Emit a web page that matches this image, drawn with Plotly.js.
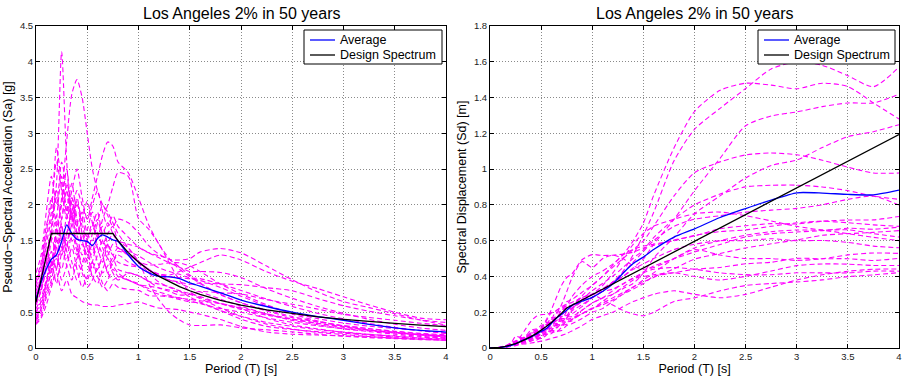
<!DOCTYPE html>
<html>
<head>
<meta charset="utf-8">
<script src="https://cdn.plot.ly/plotly-3.0.1.min.js"></script>
<style>
  html, body { margin: 0; padding: 0; background: #fff; }
  #chart { width: 902px; height: 380px; }
</style>
</head>
<body>
<div id="chart"></div>
<script>
// Natural periods of the response spectra [s]
const periods = [0,0.05,0.1,0.15,0.2,0.25,0.3,0.35,0.4,0.45,0.5,0.55,0.6,0.65,0.7,0.75,0.8,0.9,
                 1.0,1.1,1.2,1.3,1.4,1.5,1.6,1.8,2.0,2.25,2.5,2.75,3.0,3.25,3.5,3.75,4.0];

// Pseudo-spectral acceleration [g] of each scaled ground motion
const gm01 = [0.62,0.8,1.15,1.6,2.1,1.8,2.3,2.0,1.7,1.9,1.6,1.5,1.75,2.0,1.85,1.7,1.8,1.75,
              1.61,1.43,1.31,1.24,1.23,1.25,1.34,1.39,1.33,1.145,0.953,0.782,0.648,0.564,0.48,0.392,0.322];
const gm02 = [0.45,0.6,0.9,1.35,1.1,1.7,1.4,2.1,1.6,1.3,1.5,1.2,1.1,1.3,1.45,1.3,1.2,1.15,
              1.13,1.06,1.03,1.02,1.07,1.13,1.19,1.30,1.23,1.065,0.934,0.83,0.715,0.602,0.50,0.418,0.395];
const gm03 = [0.8,1.0,1.4,1.2,1.8,2.4,1.9,1.5,1.3,1.6,1.4,1.1,1.3,1.5,1.35,1.2,1.35,1.3,
              1.21,1.10,1.01,0.95,0.92,0.89,0.91,0.894,0.885,0.843,0.80,0.69,0.59,0.514,0.45,0.392,0.357];
const gm04 = [1.05,1.3,1.9,2.4,2.0,2.6,2.2,1.7,2.0,1.8,1.55,1.7,1.9,1.6,1.75,1.6,1.5,1.45,
              1.41,1.33,1.26,1.19,1.13,1.07,1.07,1.056,0.986,0.827,0.695,0.58,0.483,0.40,0.332,0.28,0.246];
const gm05 = [0.38,0.5,0.75,0.95,1.25,1.1,1.45,1.2,0.95,1.15,1.3,1.0,0.9,1.1,1.25,1.05,0.95,1.05,
              1.01,0.93,0.84,0.79,0.74,0.75,0.79,0.77,0.755,0.676,0.612,0.543,0.47,0.427,0.388,0.346,0.314];
const gm06 = [0.7,0.95,1.3,1.1,1.65,2.0,2.5,1.8,1.4,1.2,1.5,1.75,1.4,1.2,1.45,1.6,1.4,1.35,
              1.29,1.20,1.12,1.07,1.03,0.98,0.97,0.894,0.805,0.684,0.58,0.484,0.407,0.343,0.289,0.243,0.209];
const gm07 = [0.55,0.7,0.95,1.2,0.9,1.35,1.6,1.9,1.45,1.1,0.95,1.2,1.45,1.3,1.05,1.2,1.3,1.2,
              1.13,1.06,1.03,1.0,0.985,0.966,0.943,0.845,0.724,0.588,0.489,0.41,0.349,0.305,0.273,0.243,0.201];
const gm08 = [0.9,1.15,1.6,2.1,1.7,1.4,1.9,2.3,1.8,1.5,1.3,1.6,1.8,1.5,1.3,1.45,1.4,1.3,
              1.21,1.16,1.17,1.19,1.19,1.145,1.07,0.894,0.755,0.604,0.476,0.378,0.304,0.251,0.21,0.177,0.151];
const gm09 = [0.42,0.55,0.8,1.05,1.3,0.95,1.15,1.4,1.1,0.85,1.0,1.2,1.0,0.85,0.95,1.1,1.0,0.95,
              0.885,0.831,0.783,0.738,0.698,0.68,0.66,0.621,0.563,0.477,0.406,0.346,0.295,0.251,0.217,0.183,0.156];
const gm10 = [0.75,1.0,1.45,1.8,2.2,1.7,1.45,1.75,2.05,1.6,1.4,1.3,1.55,1.7,1.45,1.3,1.4,1.3,
              1.21,1.10,1.03,0.952,0.903,0.841,0.786,0.683,0.584,0.477,0.386,0.325,0.268,0.229,0.194,0.163,0.141];
const gm11 = [0.35,0.45,0.7,0.9,1.1,1.4,1.15,0.95,1.2,1.05,0.85,0.95,1.1,0.9,0.8,0.9,0.85,0.82,
              0.805,0.732,0.727,0.714,0.677,0.644,0.629,0.522,0.443,0.358,0.303,0.255,0.224,0.19,0.164,0.14,0.126];
const gm12 = [0.6,0.8,1.1,1.5,1.85,1.5,1.25,1.6,1.35,1.15,1.25,1.45,1.2,1.05,1.15,1.25,1.1,1.05,
              1.01,0.931,0.894,0.857,0.80,0.715,0.644,0.522,0.402,0.302,0.258,0.229,0.206,0.179,0.154,0.132,0.116];
const gm13 = [0.95,1.2,1.7,2.0,2.6,2.2,1.8,2.1,1.75,1.5,1.65,1.9,1.6,1.45,1.6,1.7,1.5,1.4,
              1.21,0.898,0.671,0.50,0.39,0.322,0.314,0.323,0.282,0.254,0.225,0.192,0.165,0.145,0.131,0.117,0.106];
const gm14 = [0.5,0.65,0.9,1.15,1.4,1.7,1.35,1.1,1.25,1.45,1.2,1.0,1.1,1.25,1.05,0.95,1.0,0.95,
              0.885,0.865,0.838,0.81,0.78,0.751,0.692,0.559,0.443,0.334,0.264,0.218,0.188,0.16,0.138,0.123,0.108];
const gm15 = [0.33,0.42,0.6,0.85,1.05,0.8,0.95,0.75,0.7,0.65,0.62,0.6,0.6,0.58,0.58,0.58,0.6,0.62,
              0.644,0.599,0.559,0.548,0.534,0.501,0.472,0.397,0.302,0.223,0.193,0.181,0.17,0.156,0.141,0.126,0.111];
const gm16 = [0.85,1.1,1.55,1.9,2.8,2.3,1.9,2.2,2.5,2.1,1.8,2.0,2.2,1.9,1.7,1.85,1.7,1.55,
              1.41,1.33,1.29,1.24,1.13,1.02,0.912,0.745,0.634,0.517,0.425,0.362,0.313,0.27,0.23,0.197,0.171];
const gm17 = [0.65,0.85,1.2,1.55,1.3,1.8,2.2,1.85,1.6,1.8,2.05,1.75,1.55,1.8,2.0,2.25,2.45,2.4,
              1.81,1.66,1.45,1.19,0.944,0.787,0.707,0.621,0.553,0.413,0.322,0.266,0.219,0.19,0.171,0.152,0.133];
const gm18 = [0.5,0.65,0.9,1.2,1.5,1.3,1.6,1.9,2.2,2.0,1.8,2.1,2.4,2.7,2.88,2.82,2.6,2.45,
              2.1,1.72,1.45,1.25,1.1,1.0,0.9,0.75,0.63,0.53,0.44,0.37,0.31,0.27,0.235,0.205,0.185];
const gm19 = [0.4,0.55,0.8,1.1,1.5,2.1,2.9,3.55,3.75,3.5,3.0,2.5,2.2,2.0,1.9,1.75,1.6,1.4,
              1.2,1.05,0.92,0.85,0.8,0.76,0.72,0.62,0.54,0.46,0.4,0.34,0.29,0.25,0.22,0.19,0.17];
const gm20 = [0.7,0.9,1.3,1.7,2.3,4.14,2.6,1.8,2.1,1.7,1.5,1.35,1.6,1.4,1.25,1.15,1.05,0.95,
              0.9,0.8,0.75,0.72,0.7,0.66,0.62,0.55,0.5,0.42,0.36,0.31,0.27,0.24,0.21,0.185,0.165];

const records = [gm01,gm02,gm03,gm04,gm05,gm06,gm07,gm08,gm09,gm10,
                 gm11,gm12,gm13,gm14,gm15,gm16,gm17,gm18,gm19,gm20];

// Mean spectrum of the suite [g]
const averageSa = [0.68,0.92,1.1,1.24,1.3,1.49,1.72,1.6,1.52,1.5,1.49,1.43,1.53,1.58,1.55,1.51,1.49,1.3,
                   1.14,1.05,1.0,0.995,0.97,0.91,0.865,0.77,0.67,0.58,0.502,0.44,0.388,0.33,0.282,0.245,0.222];

// Code design spectrum [g]
const designSa = [0.64,0.96,1.28,1.6,1.6,1.6,1.6,1.6,1.6,1.6,1.6,1.6,1.6,1.6,1.6,1.6,1.5,1.333,
                  1.2,1.091,1.0,0.923,0.857,0.8,0.75,0.667,0.6,0.533,0.48,0.436,0.4,0.369,0.343,0.32,0.3];

const periodTicks = [0,0.5,1,1.5,2,2.5,3,3.5,4];
const saTicks = [0,0.5,1,1.5,2,2.5,3,3.5,4,4.5];
const sdTicks = [0,0.2,0.4,0.6,0.8,1,1.2,1.4,1.6,1.8];

const chartTitle = 'Los Angeles 2% in 50 years';
const legendNames = ['Average', 'Design Spectrum'];
const legendColors = ['#0000ff', '#000000'];

// Spectral displacement [m] from pseudo-acceleration [g]: Sd = Sa * g * (T / 2pi)^2
const GRAV = 9.81;
const toDisplacement = sa => sa.map((a, i) => a * GRAV * Math.pow(periods[i] / (2 * Math.PI), 2));

const FONT = 'Liberation Sans, Arial, Helvetica, sans-serif';
const recordLine = { color: '#ff00ff', width: 1.1, dash: '5px,3px', shape: 'spline', smoothing: 0.7 };

const traces = [];
records.forEach(sa => {
  traces.push({ x: periods, y: sa, xaxis: 'x', yaxis: 'y', mode: 'lines',
                line: recordLine, showlegend: false, hoverinfo: 'skip' });
  traces.push({ x: periods, y: toDisplacement(sa), xaxis: 'x2', yaxis: 'y2', mode: 'lines',
                line: recordLine, showlegend: false, hoverinfo: 'skip' });
});

[['x', 'y', v => v], ['x2', 'y2', toDisplacement]].forEach(([xa, ya, f]) => {
  traces.push({ x: periods, y: f(averageSa), xaxis: xa, yaxis: ya, mode: 'lines', name: legendNames[0],
                showlegend: false, line: { color: legendColors[0], width: 1.3, shape: 'spline', smoothing: 0.6 } });
  traces.push({ x: periods, y: f(designSa), xaxis: xa, yaxis: ya, mode: 'lines', name: legendNames[1],
                showlegend: false, line: { color: legendColors[1], width: 1.3 } });
});

const axisBase = {
  showline: true, linecolor: '#000', linewidth: 1, mirror: 'ticks',
  ticks: 'inside', ticklen: 4, tickcolor: '#000', tickwidth: 1,
  showgrid: true, gridcolor: '#8a8a8a', gridwidth: 1, griddash: '1px,2px',
  zeroline: false, tickfont: { family: FONT, size: 9.5, color: '#222' },
  fixedrange: true
};
const axisTitleFont = { family: FONT, size: 12.5, color: '#000' };

const xAxis = (domain, anchor) => Object.assign({}, axisBase, {
  domain, anchor, range: [0, 4], tickmode: 'array', tickvals: periodTicks,
  title: { text: 'Period (T) [s]', font: axisTitleFont, standoff: 2 }
});

// Boxed legends in the upper-right corner of each panel, placed in pixel terms
const M = { l: 36, r: 3, t: 26, b: 32 };
const PW = 902 - M.l - M.r, PH = 380 - M.t - M.b;
const px = v => (v - M.l) / PW;
const py = v => (380 - M.b - v) / PH;

const shapes = [], annotations = [];
[[304, 442], [758, 895]].forEach(([x0, x1]) => {
  shapes.push({ type: 'rect', xref: 'paper', yref: 'paper', layer: 'above',
                x0: px(x0), x1: px(x1), y0: py(64), y1: py(30),
                fillcolor: '#fff', line: { color: '#000', width: 1 } });
  legendNames.forEach((name, i) => {
    const yy = 40 + i * 15;
    shapes.push({ type: 'line', xref: 'paper', yref: 'paper', layer: 'above',
                  x0: px(x0 + 6), x1: px(x0 + 31), y0: py(yy), y1: py(yy),
                  line: { color: legendColors[i], width: 1.3 } });
    annotations.push({ text: name, xref: 'paper', yref: 'paper', x: px(x0 + 34), y: py(yy),
                       xanchor: 'left', yanchor: 'middle', showarrow: false,
                       font: { family: FONT, size: 12.5, color: '#000' } });
  });
});

[0.2376, 0.7629].forEach(cx => annotations.push({
  text: chartTitle, xref: 'paper', yref: 'paper', x: cx, y: 1, xanchor: 'center', yanchor: 'bottom',
  yshift: 2, showarrow: false, font: { family: FONT, size: 16, color: '#000' }
}));

const layout = {
  width: 902, height: 380, margin: M,
  paper_bgcolor: '#fff', plot_bgcolor: '#fff',
  font: { family: FONT, color: '#000' },
  showlegend: false,
  xaxis: xAxis([0, 0.4751], 'y'),
  xaxis2: xAxis([0.5261, 1], 'y2'),
  yaxis: Object.assign({}, axisBase, {
    anchor: 'x', range: [0, 4.5], tickmode: 'array', tickvals: saTicks,
    title: { text: 'Pseudo\u2212Spectral Acceleration (Sa) [g]', font: axisTitleFont, standoff: 4 }
  }),
  yaxis2: Object.assign({}, axisBase, {
    anchor: 'x2', range: [0, 1.8], tickmode: 'array', tickvals: sdTicks,
    title: { text: 'Spectral Displacement (Sd) [m]', font: axisTitleFont, standoff: 4 }
  }),
  shapes, annotations,
  hovermode: false
};

Plotly.newPlot('chart', traces, layout, { staticPlot: true, displayModeBar: false });
</script>
</body>
</html>
